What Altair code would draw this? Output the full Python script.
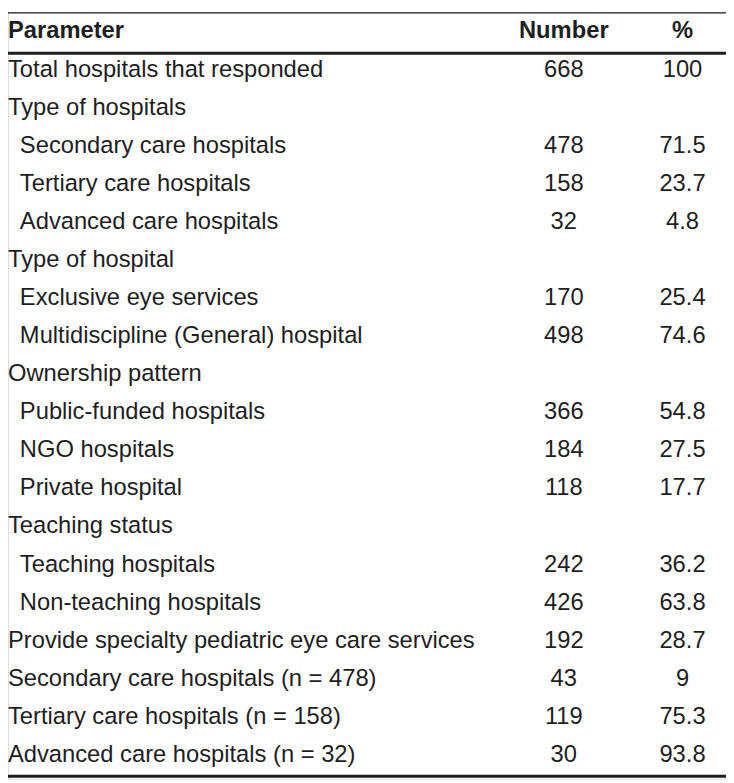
import altair as alt
import pandas as pd

# ---- table content ----
parameters = [
    "Total hospitals that responded",
    "Type of hospitals",
    "Secondary care hospitals",
    "Tertiary care hospitals",
    "Advanced care hospitals",
    "Type of hospital",
    "Exclusive eye services",
    "Multidiscipline (General) hospital",
    "Ownership pattern",
    "Public-funded hospitals",
    "NGO hospitals",
    "Private hospital",
    "Teaching status",
    "Teaching hospitals",
    "Non-teaching hospitals",
    "Provide specialty pediatric eye care services",
    "Secondary care hospitals (n = 478)",
    "Tertiary care hospitals (n = 158)",
    "Advanced care hospitals (n = 32)",
]
indent = [0, 0, 1, 1, 1, 0, 1, 1, 0, 1, 1, 1, 0, 1, 1, 0, 0, 0, 0]
numbers = [668, None, 478, 158, 32, None, 170, 498, None, 366, 184, 118,
           None, 242, 426, 192, 43, 119, 30]
percents = [100, None, 71.5, 23.7, 4.8, None, 25.4, 74.6, None, 54.8, 27.5,
            17.7, None, 36.2, 63.8, 28.7, 9, 75.3, 93.8]
headers = ["Parameter", "Number", "%"]

def fmt(v):
    return "" if v is None else f"{v:g}"

rows = pd.DataFrame({
    "row": list(range(len(parameters))),
    "param": parameters,
    "indent": indent,
    "number": [fmt(v) for v in numbers],
    "pct": [fmt(v) for v in percents],
})
head = pd.DataFrame({"row": [-1.013], "param": [headers[0]], "number": [headers[1]],
                     "pct": [headers[2]], "indent": [0]})
lines = pd.DataFrame({"row": [-1.673, -0.61, 18.377], "w": [1.3, 3.0, 3.2]})

W, H = 726, 775
FONT = "Liberation Sans"
FS = 24
COLOR = "#1e1e1e"

yscale = alt.Scale(domain=[-1.688, 18.442], range=[0, H])
Y = alt.Y("row:Q", scale=yscale, axis=None)

def text_layer(df, bold):
    base = alt.Chart(df)
    kw = dict(font=FONT, fontSize=FS, color=COLOR, baseline="alphabetic",
              fontWeight="bold" if bold else "normal")
    p = base.mark_text(align="left", **kw).encode(
        x=alt.X("indent:Q", scale=alt.Scale(domain=[0, 1], range=[0, 12]), axis=None),
        y=Y, text="param:N")
    n = base.mark_text(align="center", **kw).encode(
        x=alt.value(562), y=Y, text="number:N")
    c = base.mark_text(align="center", **kw).encode(
        x=alt.value(682), y=Y, text="pct:N")
    return [p, n, c]

rules = alt.Chart(lines).mark_rule(color=COLOR).encode(
    y=Y, x=alt.value(0), x2=alt.value(W),
    strokeWidth=alt.StrokeWidth("w:Q", scale=None, legend=None))

chart = alt.layer(
    rules, *text_layer(head, True), *text_layer(rows, False)
).properties(
    width=W, height=H, autosize=alt.AutoSizeParams(type="none"), padding=0
).configure_view(stroke=None).configure(background="white")

chart.save("out.html", embed_options={"renderer": "svg", "actions": False})
